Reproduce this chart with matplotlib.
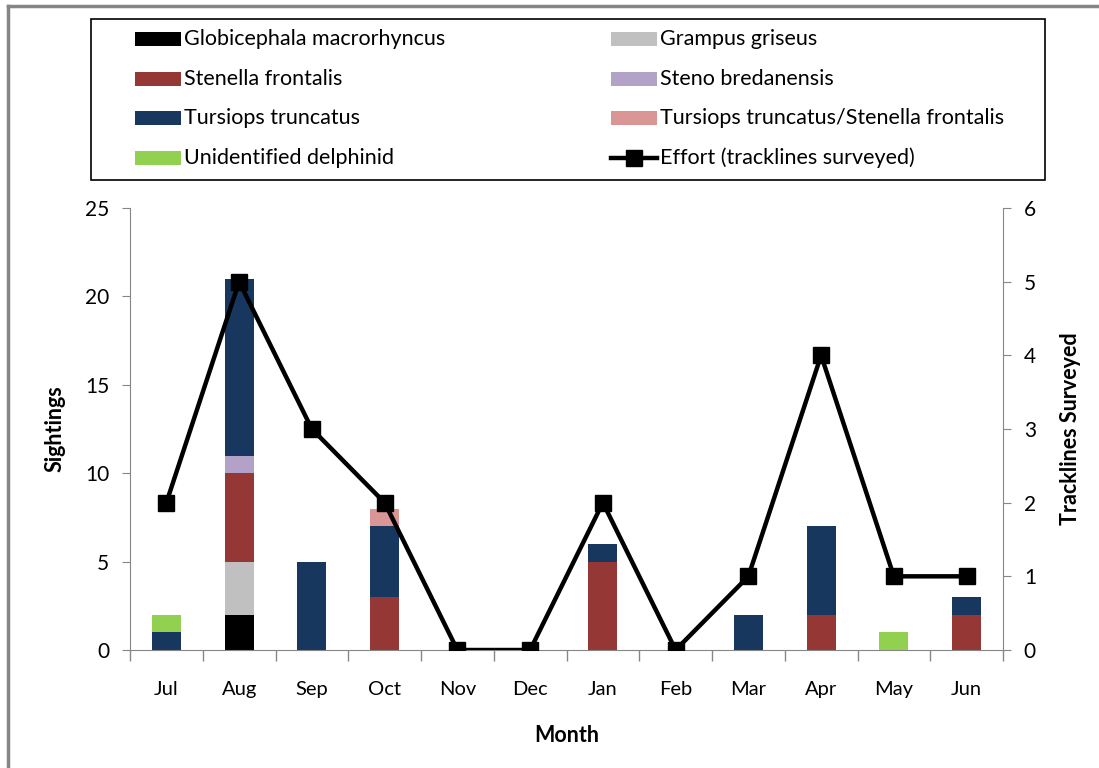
import matplotlib
matplotlib.use("Agg")
import matplotlib.pyplot as plt
from matplotlib.patches import Rectangle
from matplotlib.lines import Line2D
import numpy as np

plt.rcParams['font.family'] = ['Lato', 'DejaVu Sans']

months = ["Jul", "Aug", "Sep", "Oct", "Nov", "Dec", "Jan", "Feb", "Mar", "Apr", "May", "Jun"]
globicephala = [0, 2, 0, 0, 0, 0, 0, 0, 0, 0, 0, 0]
grampus = [0, 3, 0, 0, 0, 0, 0, 0, 0, 0, 0, 0]
stenella = [0, 5, 0, 3, 0, 0, 5, 0, 0, 2, 0, 2]
steno = [0, 1, 0, 0, 0, 0, 0, 0, 0, 0, 0, 0]
tursiops = [1, 10, 5, 4, 0, 0, 1, 0, 2, 5, 0, 1]
tt_sf = [0, 0, 0, 1, 0, 0, 0, 0, 0, 0, 0, 0]
unidentified = [1, 0, 0, 0, 0, 0, 0, 0, 0, 0, 1, 0]
effort = [2, 5, 3, 2, 0, 0, 2, 0, 1, 4, 1, 1]

series = [
    ("Globicephala macrorhyncus", globicephala, "#000000"),
    ("Grampus griseus", grampus, "#c0c0c0"),
    ("Stenella frontalis", stenella, "#953735"),
    ("Steno bredanensis", steno, "#b3a2c7"),
    ("Tursiops truncatus", tursiops, "#17375e"),
    ("Tursiops truncatus/Stenella frontalis", tt_sf, "#d99694"),
    ("Unidentified delphinid", unidentified, "#92d050"),
]
effort_label = "Effort (tracklines surveyed)"

W, H = 1099, 768
fig = plt.figure(figsize=(W / 100, H / 100), dpi=100)
ax = fig.add_axes([130 / W, 1 - 650 / H, 873 / W, 442 / H])
ax2 = ax.twinx()

x = np.arange(len(months))
bottom = np.zeros(len(months))
colors = {}
for name, vals, col in series:
    v = np.array(vals, dtype=float)
    ax.bar(x, v, 0.4, bottom=bottom, color=col, zorder=2)
    bottom += v
    colors[name] = col

ax2.plot(x, effort, color="black", lw=3.2, marker="s", ms=11, zorder=5)

gray = "#868686"
ax.set_xlim(-0.5, len(months) - 0.5)
ax.set_ylim(0, 25)
ax.set_yticks([0, 5, 10, 15, 20, 25])
ax2.set_ylim(0, 6)
ax2.set_yticks(range(7))
ax.set_xticks(x)
ax.set_xticklabels(months)
ax.set_xticks(np.arange(-0.5, len(months)), minor=True)
ax.tick_params(axis="x", which="major", length=0, pad=22, labelsize=14.5, colors="#000000")
ax.tick_params(axis="x", which="minor", length=8, color=gray, width=1)
ax.tick_params(axis="y", length=6, color=gray, labelsize=15, pad=9)
ax2.tick_params(axis="y", length=6, color=gray, labelsize=15, pad=9)

for a in (ax, ax2):
    a.spines["top"].set_visible(False)
    for s in ("left", "right", "bottom"):
        a.spines[s].set_color(gray)
ax2.spines["left"].set_visible(False)
ax.spines["right"].set_visible(False)
ax2.spines["bottom"].set_visible(False)
ax2.set_zorder(ax.get_zorder() + 1)
ax2.patch.set_visible(False)

ax.set_ylabel("Sightings", fontsize=15.5, fontweight="bold", labelpad=14)
ax.set_xlabel("Month", fontsize=15.5, fontweight="bold", labelpad=20)
ax2.set_ylabel("Tracklines Surveyed", fontsize=15.5, fontweight="bold", labelpad=17)

# legend box (manual layout, two columns)
def fx(px):
    return px / W

def fy(py):
    return 1 - py / H

fig.patches.append(Rectangle((fx(91), fy(180)), fx(1045) - fx(91), fy(19) - fy(180),
                             transform=fig.transFigure, fill=False,
                             edgecolor="black", lw=1.2))
col1 = ["Globicephala macrorhyncus", "Stenella frontalis", "Tursiops truncatus",
        "Unidentified delphinid"]
col2 = ["Grampus griseus", "Steno bredanensis", "Tursiops truncatus/Stenella frontalis",
        effort_label]
rows_y = [39, 79, 118, 158]
for colx, names in ((135, col1), (611, col2)):
    for ry, name in zip(rows_y, names):
        if name == effort_label:
            fig.lines.append(Line2D([fx(colx), fx(colx + 46)], [fy(ry), fy(ry)],
                                    transform=fig.transFigure, color="black", lw=3.2))
            fig.lines.append(Line2D([fx(colx + 23)], [fy(ry)], transform=fig.transFigure,
                                    color="black", marker="s", ms=11, lw=0))
        else:
            fig.patches.append(Rectangle((fx(colx), fy(ry + 6.5)), fx(46), 13 / H,
                                         transform=fig.transFigure,
                                         facecolor=colors[name], edgecolor="none"))
        fig.text(fx(colx + 49), fy(ry), name, fontsize=15.5, va="center", ha="left")

# outer chart border (left and top edges visible)
fig.lines.append(Line2D([fx(8), fx(8)], [0, fy(6)], transform=fig.transFigure,
                        color=gray, lw=2.5))
fig.lines.append(Line2D([fx(8), 1], [fy(6), fy(6)], transform=fig.transFigure,
                        color=gray, lw=2.5))

fig.savefig("out.png", dpi=100)
